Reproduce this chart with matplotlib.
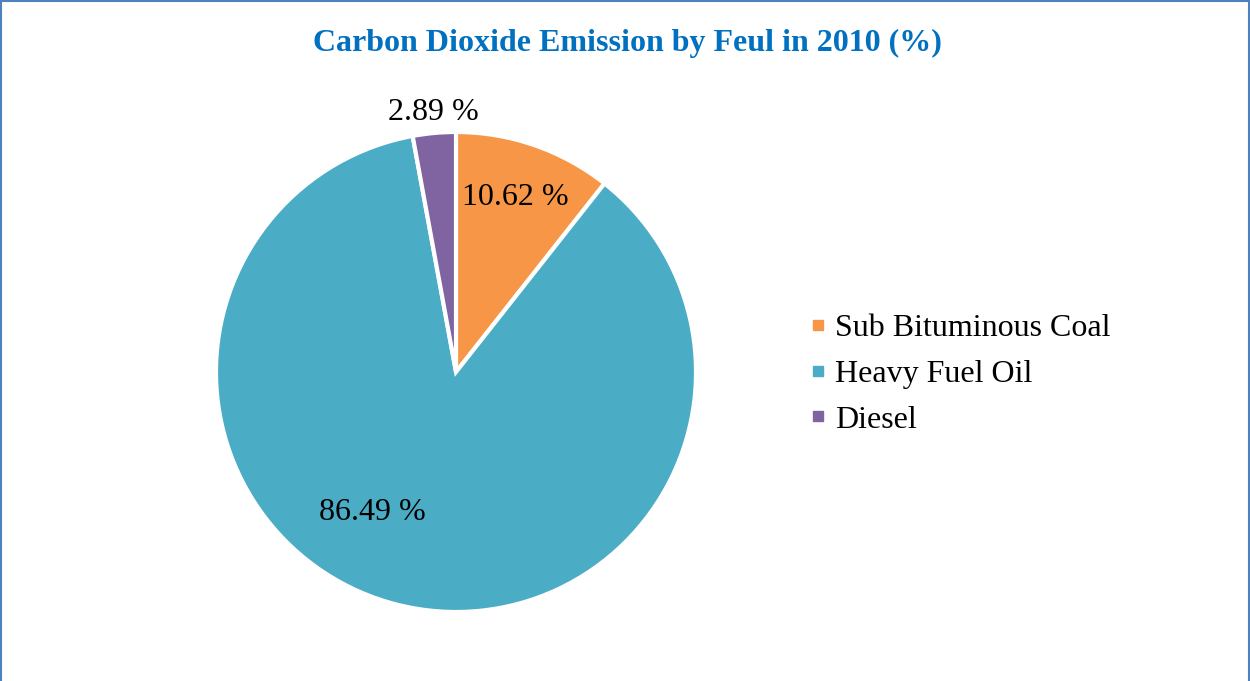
import numpy as np
import matplotlib
matplotlib.use('Agg')
import matplotlib.pyplot as plt
from matplotlib.lines import Line2D
from matplotlib.patches import Rectangle

# data
fuels = ['Sub Bituminous Coal', 'Heavy Fuel Oil', 'Diesel']
shares = [10.62, 86.49, 2.89]
colors = ['#F79646', '#4BACC6', '#8064A2']

# label placement (radius fraction, angle in degrees)
label_pos = [(0.78, 71.6), (0.67, -121.5), (1.10, 95.0)]

plt.rcParams['font.family'] = ['Liberation Serif', 'DejaVu Serif']

fig = plt.figure(figsize=(12.5, 6.81), dpi=100)

# chart border (bottom edge runs off the image)
fig.patches.append(Rectangle((1.5 / 1250, -0.05), 1247 / 1250, 1.05 - 1.5 / 681,
                             transform=fig.transFigure, fill=False,
                             edgecolor='#4F81BD', linewidth=1.5))

fig.text(627 / 1250, 1 - 43 / 681, 'Carbon Dioxide Emission by Feul in 2010 (%)',
         ha='center', va='center', fontsize=23, fontweight='bold', color='#0070C0')

ax = fig.add_axes([(456 - 240) / 1250, (681 - 612) / 681, 480 / 1250, 480 / 681])
wedges, _ = ax.pie(shares, colors=colors, startangle=90, counterclock=False,
                   radius=1, wedgeprops=dict(edgecolor='white', linewidth=3))
ax.set_xlim(-1, 1)
ax.set_ylim(-1, 1)
ax.set_aspect('equal')
ax.axis('off')

for val, (r, ang) in zip(shares, label_pos):
    a = np.deg2rad(ang)
    ax.text(r * np.cos(a), r * np.sin(a), f'{val:.2f} %', ha='center', va='center_baseline',
            fontsize=23, color='black', clip_on=False)

handles = [Line2D([], [], marker='s', linestyle='none', markersize=6.5,
                  markerfacecolor=c, markeredgecolor=c) for c in colors]
fig.legend(handles, fuels, loc='center left', bbox_to_anchor=(810 / 1250, 1 - 374 / 681),
           frameon=False, fontsize=23, handlelength=0.5, handletextpad=0.28,
           labelspacing=0.52, borderpad=0, borderaxespad=0)

fig.savefig('out.png', dpi=100)
